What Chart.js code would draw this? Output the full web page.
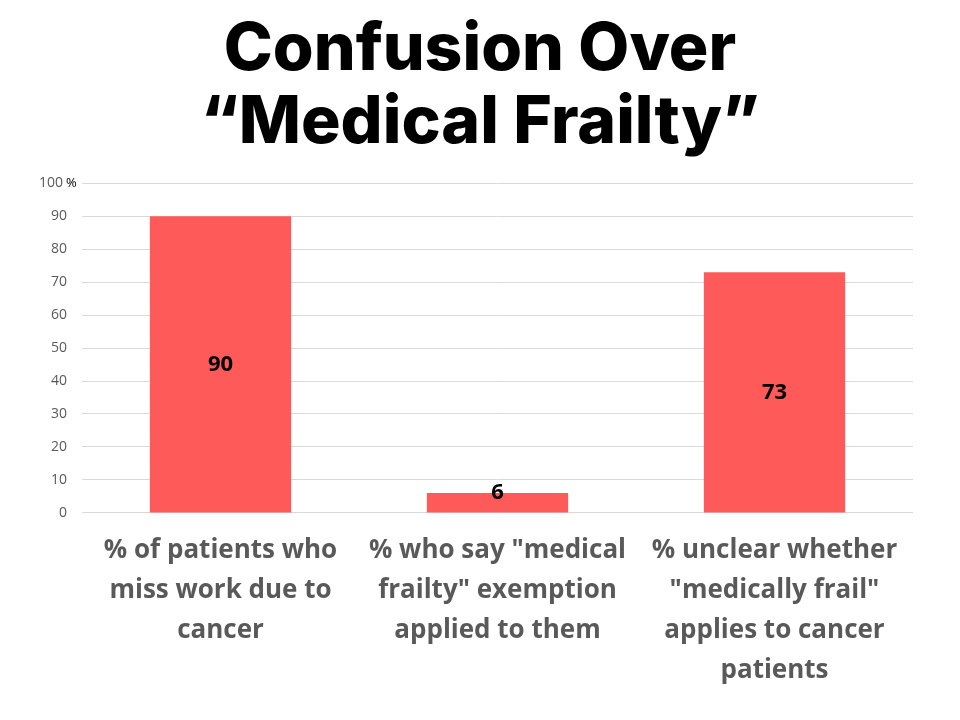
<!DOCTYPE html>
<html>
<head>
<meta charset="utf-8">
<script src="https://cdn.jsdelivr.net/npm/chart.js@4/dist/chart.umd.min.js"></script>
<style>
  html, body { margin: 0; padding: 0; background: #fff; }
  #wrap { width: 960px; height: 720px; }
</style>
</head>
<body>
<div id="wrap"><canvas id="myChart" width="960" height="720"></canvas></div>
<script>
// Data
var categories = [
  ["% of patients who", "miss work due to", "cancer"],
  ["% who say \"medical", "frailty\" exemption", "applied to them"],
  ["% unclear whether", "\"medically frail\"", "applies to cancer", "patients"]
];
var values = [90, 6, 73];
var yTicks = [0, 10, 20, 30, 40, 50, 60, 70, 80, 90, 100];
var topTick = 100;

var barColor = "#FF5A5A";

// labels inside the bars + the top tick "100 %" (drawn here so it is not clipped)
var labelPlugin = {
  id: "labels",
  afterDatasetsDraw: function(chart) {
    var ctx = chart.ctx;
    var meta = chart.getDatasetMeta(0);
    ctx.save();
    ctx.font = "bold 22px 'Open Sans', sans-serif";
    ctx.fillStyle = "#000";
    ctx.textAlign = "center";
    ctx.textBaseline = "middle";
    meta.data.forEach(function(bar, i) {
      var h = bar.base - bar.y;
      var y = h < 30 ? bar.y : (bar.y + bar.base) / 2;
      ctx.fillText(values[i], bar.x, y);
    });
    var ys = chart.scales.y;
    var y100 = ys.getPixelForValue(topTick);
    ctx.font = "14px 'Open Sans', sans-serif";
    ctx.fillStyle = "#595959";
    ctx.textAlign = "right";
    ctx.fillText(String(topTick), ys.right - 19, y100);
    ctx.font = "13px 'Open Sans', sans-serif";
    ctx.fillStyle = "#000";
    ctx.textAlign = "left";
    ctx.fillText("%", ys.right - 16, y100);
    ctx.restore();
  }
};

new Chart("myChart", {
  type: "bar",
  data: {
    labels: categories,
    datasets: [{
      data: values,
      backgroundColor: barColor,
      categoryPercentage: 1,
      barPercentage: 0.51
    }]
  },
  options: {
    responsive: false,
    animation: false,
    layout: { padding: { left: 47, right: 47, top: 0, bottom: 20 } },
    plugins: {
      legend: { display: false },
      tooltip: { enabled: false },
      title: {
        display: true,
        text: ["Confusion Over", "\u201CMedical Frailty\u201D"],
        color: "#000",
        font: { family: "Inter", size: 66, weight: "800", lineHeight: 1.1 },
        padding: { top: 14, bottom: 24 }
      }
    },
    scales: {
      x: {
        grid: { display: false },
        border: { display: false },
        ticks: {
          color: "#595959",
          font: { family: "'Open Sans'", size: 26, weight: "bold", lineHeight: 1.53 },
          maxRotation: 0,
          padding: 10
        }
      },
      y: {
        min: 0,
        max: 100,
        afterBuildTicks: function(axis) {
          axis.ticks = yTicks.map(function(v) { return { value: v }; });
        },
        afterFit: function(axis) { axis.width = 35; },
        grid: { color: "#D9D9D9", drawTicks: false },
        border: { display: false },
        ticks: {
          color: "#595959",
          font: { family: "'Open Sans'", size: 14 },
          padding: 15,
          callback: function(v) { return v === topTick ? "" : v; }
        }
      }
    }
  },
  plugins: [labelPlugin]
});
</script>
</body>
</html>
